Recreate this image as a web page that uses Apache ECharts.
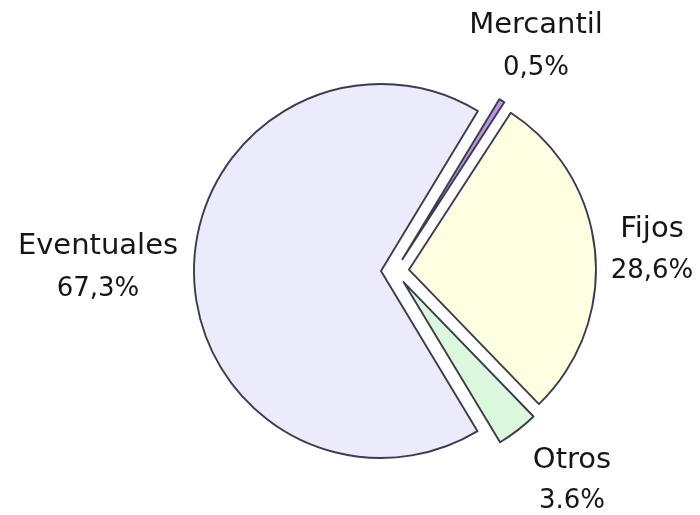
<!DOCTYPE html>
<html>
<head>
<meta charset="utf-8">
<script src="https://cdn.jsdelivr.net/npm/echarts@6/dist/echarts.min.js"></script>
<style>html,body{margin:0;padding:0;background:#fff}#c{width:700px;height:515px}</style>
</head>
<body>
<div id="c"></div>
<script>
const categories = ['Mercantil', 'Fijos', 'Otros', 'Eventuales'];
const values = [0.5, 28.6, 3.6, 67.3];
const valueLabels = ['0,5%', '28,6%', '3.6%', '67,3%'];

const colors = ['#b896e6', '#fefee0', '#dcf8dc', '#ebebfc'];
// label anchor (x center, y of name line, y of value line)
const labelPos = [[536, 25, 68], [652, 229, 271], [572, 460, 501], [98, 246, 289]];

const chart = echarts.init(document.getElementById('c'), null, {renderer: 'canvas'});

const graphics = [];
categories.forEach((c, i) => {
  const p = labelPos[i];
  graphics.push({
    type: 'text', x: p[0], y: p[1], silent: true,
    style: {text: c, font: '29px "DejaVu Sans"', fill: '#161616', align: 'center', verticalAlign: 'middle'}
  });
  graphics.push({
    type: 'text', x: p[0], y: p[2], silent: true,
    style: {text: valueLabels[i], font: '26px "DejaVu Sans"', fill: '#161616', align: 'center', verticalAlign: 'middle'}
  });
});

chart.setOption({
  animation: false,
  backgroundColor: '#ffffff',
  graphic: graphics,
  series: [{
    type: 'pie',
    center: [395, 271],
    radius: 187,
    startAngle: 58.8,
    clockwise: true,
    selectedMode: 'multiple',
    selectedOffset: 14,
    emphasis: {disabled: true},
    itemStyle: {borderColor: '#3c3c50', borderWidth: 1.9},
    label: {show: false},
    labelLine: {show: false},
    data: categories.map((c, i) => ({
      name: c,
      value: values[i],
      selected: true,
      itemStyle: {color: colors[i]}
    }))
  }]
});
</script>
</body>
</html>
